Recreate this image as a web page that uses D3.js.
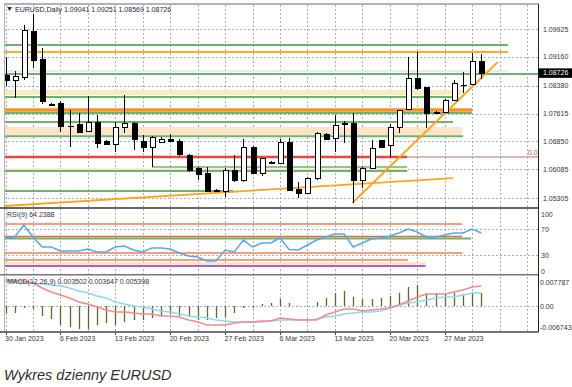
<!DOCTYPE html>
<html>
<head>
<meta charset="utf-8">
<script src="https://cdn.jsdelivr.net/npm/d3@7"></script>
<style>
body { margin: 0; background: #fff; }
text { font-family: "Liberation Sans", Arial, sans-serif; }
</style>
</head>
<body>
<div id="content"></div>
<script>
// daily bars, broker feed with sunday candles
var dates = ["2023-01-30","2023-01-31","2023-02-01","2023-02-02","2023-02-03","2023-02-05",
  "2023-02-06","2023-02-07","2023-02-08","2023-02-09","2023-02-10","2023-02-12",
  "2023-02-13","2023-02-14","2023-02-15","2023-02-16","2023-02-17","2023-02-19",
  "2023-02-20","2023-02-21","2023-02-22","2023-02-23","2023-02-24","2023-02-26",
  "2023-02-27","2023-02-28","2023-03-01","2023-03-02","2023-03-03","2023-03-05",
  "2023-03-06","2023-03-07","2023-03-08","2023-03-09","2023-03-10","2023-03-12",
  "2023-03-13","2023-03-14","2023-03-15","2023-03-16","2023-03-17","2023-03-19",
  "2023-03-20","2023-03-21","2023-03-22","2023-03-23","2023-03-24","2023-03-26",
  "2023-03-27","2023-03-28","2023-03-29","2023-03-30","2023-03-31"];

var open = [1.08667,1.08531,1.08613,1.09870,1.09105,1.07874,1.07902,1.07273,1.07328,1.07136,1.07382,1.06863,
  1.06781,1.07246,1.07355,1.06863,1.06699,1.06836,1.06918,1.06863,1.06480,1.06125,1.05988,1.05496,
  1.05496,1.06070,1.05797,1.06699,1.05988,1.06289,1.06261,1.06836,1.05551,1.05441,1.05851,1.07054,
  1.06945,1.07328,1.07355,1.05797,1.06125,1.06890,1.06754,1.07246,1.07738,1.08585,1.08339,1.07656,
  1.07656,1.07984,1.08394,1.08421,1.09041];
var high = [1.09160,1.08777,1.10034,1.10335,1.09406,1.07902,1.07957,1.07710,1.07628,1.08093,1.07574,1.06890,
  1.07382,1.08121,1.07382,1.07027,1.06990,1.06972,1.07054,1.06918,1.06508,1.06152,1.06152,1.05551,
  1.06125,1.06480,1.06918,1.06726,1.06410,1.06316,1.06918,1.06945,1.05742,1.05870,1.07100,1.07082,
  1.07574,1.07410,1.07628,1.06140,1.06890,1.06900,1.07328,1.07720,1.09160,1.09296,1.08350,1.07683,
  1.08011,1.08531,1.08749,1.09269,1.09251];
var low = [1.08367,1.08039,1.08531,1.08859,1.07874,1.07847,1.07109,1.06699,1.07082,1.07120,1.06671,1.06754,
  1.06562,1.07082,1.06617,1.06562,1.06152,1.06822,1.06836,1.06453,1.06015,1.05797,1.05469,1.05469,
  1.05332,1.05742,1.05742,1.05961,1.05906,1.06261,1.06234,1.05496,1.05305,1.05414,1.05797,1.06890,
  1.06562,1.06808,1.05168,1.05578,1.06110,1.06690,1.06425,1.07082,1.07710,1.08257,1.07218,1.07628,
  1.07640,1.07970,1.08175,1.08410,1.08569];
var close = [1.08531,1.08640,1.09898,1.09077,1.07957,1.07860,1.07273,1.07260,1.07109,1.07382,1.06808,1.06781,
  1.07246,1.07355,1.06918,1.06699,1.06972,1.06918,1.06863,1.06508,1.06070,1.05961,1.05496,1.05523,
  1.06070,1.05797,1.06699,1.05988,1.06398,1.06275,1.06836,1.05523,1.05441,1.05851,1.07082,1.06918,
  1.07300,1.07355,1.05797,1.06125,1.06671,1.06699,1.07246,1.07710,1.08585,1.08312,1.07628,1.07642,
  1.07984,1.08449,1.08400,1.09050,1.08726];

var rsi = [57.0,58.0,76.7,58.0,42.5,42.5,36.2,36.2,36.2,39.3,34.7,34.7,
  42.5,44.0,37.8,34.7,40.9,40.9,39.3,33.1,28.5,26.9,20.7,20.7,
  37.8,34.7,53.3,42.5,48.7,48.7,56.5,38.6,37.8,45.6,53.3,58.0,
  62.7,62.7,42.5,48.7,54.9,56.5,59.6,64.2,70.5,65.8,58.0,58.0,
  61.1,64.2,64.2,70.5,64.24];

var macdHist = [-0.00223,-0.00223,-0.00061,-0.00094,-0.00320,-0.00417,-0.00610,-0.00675,-0.00739,-0.00739,-0.00610,-0.00546,
  -0.00610,-0.00513,-0.00449,-0.00449,-0.00384,-0.00320,-0.00255,-0.00320,-0.00352,-0.00449,-0.00449,-0.00384,
  -0.00352,-0.00223,-0.00061,-0.00061,0.00068,0.00100,0.00229,0.00100,0.00019,0.00019,0.00132,0.00262,
  0.00423,0.00488,0.00294,0.00229,0.00229,0.00262,0.00326,0.00423,0.00617,0.00681,0.00423,0.00423,
  0.00423,0.00423,0.00391,0.00455,0.00423];
var macdRed = [0.00843,0.00843,0.00810,0.00746,0.00584,0.00455,0.00358,0.00262,0.00132,0.00068,-0.00029,-0.00126,
  -0.00191,-0.00191,-0.00223,-0.00255,-0.00255,-0.00320,-0.00320,-0.00352,-0.00449,-0.00513,-0.00610,-0.00610,
  -0.00610,-0.00546,-0.00513,-0.00513,-0.00481,-0.00481,-0.00384,-0.00417,-0.00449,-0.00449,-0.00449,-0.00287,
  -0.00191,-0.00094,-0.00094,-0.00158,-0.00126,-0.00094,-0.00061,0.00036,0.00165,0.00294,0.00391,0.00391,
  0.00391,0.00455,0.00520,0.00617,0.00649];
var macdBlue = [0.00810,0.00778,0.00746,0.00746,0.00714,0.00681,0.00649,0.00584,0.00488,0.00423,0.00326,0.00262,
  0.00132,0.00068,0.00003,-0.00029,-0.00094,-0.00158,-0.00191,-0.00255,-0.00320,-0.00352,-0.00384,-0.00449,
  -0.00481,-0.00513,-0.00513,-0.00513,-0.00513,-0.00481,-0.00449,-0.00449,-0.00449,-0.00449,-0.00417,-0.00352,
  -0.00320,-0.00255,-0.00223,-0.00191,-0.00191,-0.00158,-0.00061,0.00036,0.00100,0.00132,0.00197,0.00262,
  0.00294,0.00294,0.00358,0.00423,0.00423];

var priceTicks = [1.09925, 1.09160, 1.08380, 1.07615, 1.06850, 1.06085, 1.05305];
var rsiTicks = [100, 70, 30, 0];
var rsiGrid = [70, 30];
var macdTicks = [0.007787, 0.00, -0.006743];

var title = "EURUSD,Daily 1.09041 1.09251 1.08569 1.08726";
var rsiTitle = "RSI(9) 64.2388";
var macdTitle = "MACD(12,26,9) 0.003502 0.003647 0.005398";
var lastPrice = 1.08726;

// chart objects drawn on the terminal (price, from bar, to bar)
var green = "#6db36d", orange = "#ffa726", salmon = "#f99b7d";
var hLevels = [
  {p: 1.09487, a: -1, b: 54.9, c: green, w: 2},
  {p: 1.09296, a: -1, b: 54.9, c: orange, w: 2},
  {p: 1.08777, a: -1, b: 54.9, c: "#e6ecea", w: 2},
  {p: 1.08695, a: -1, b: 60, c: green, w: 2},
  {p: 1.08066, a: -1, b: 49.5, c: green, w: 2},
  {p: 1.07710, a: -1, b: 51, c: "#f7931e", w: 3.5},
  {p: 1.07628, a: -1, b: 51, c: green, w: 2},
  {p: 1.07382, a: -1, b: 48.9, c: green, w: 2},
  {p: 1.06990, a: -1, b: 50, c: green, w: 2},
  {p: 1.06425, a: 43.9, b: 60, c: "#c9a593", w: 1.5},
  {p: 1.06425, a: -1, b: 43.9, c: "#e8453f", w: 2.5},
  {p: 1.06152, a: 16, b: 43.9, c: green, w: 1.5},
  {p: 1.06042, a: -1, b: 43.9, c: green, w: 2},
  {p: 1.05496, a: -1, b: 24.9, c: green, w: 2}
];
var bands = [
  {p1: 1.08257, p2: 1.08121, a: -1, b: 49.9, c: "#f6edbd"},
  {p1: 1.07246, p2: 1.07010, a: -1, b: 49.9, c: "#fde4c8"},
  {p1: 1.06110, p2: 1.06070, a: -1, b: 43.9, c: "#fbdcc4"}
];
var trends = [
  {a: -0.2, p1: 1.05086, b: 48.9, p2: 1.05851},
  {a: 37.9, p1: 1.05168, b: 53.8, p2: 1.09023}
];
var rsiLevels = [
  {v: 78.2, b: 49.9, c: salmon, w: 2},
  {v: 55.8, b: 50.9, c: green, w: 2},
  {v: 58.6, b: 49.9, c: "#d9703f", w: 1.5},
  {v: 33.1, b: 49.9, c: salmon, w: 2},
  {v: 22.2, b: 44, c: salmon, w: 2},
  {v: 16.8, b: 45.9, c: "#f1e9a6", w: 2.5},
  {v: 12.9, b: 45.9, c: "#b35ad6", w: 2}
];

var W = 572, H = 387;
var L = 4, R = 538.5;
var mainTop = 5, mainBot = 207.5;
var rsiTop = 209, rsiBot = 274;
var macdTop = 275.5, macdBot = 331.5;

var svg = d3.select("#content").append("svg")
  .attr("width", W).attr("height", H)
  .style("display", "block");

var x = d3.scaleLinear().domain([0, dates.length - 1])
  .range([5.5, 5.5 + 9.15 * (dates.length - 1)]);
var y = d3.scaleLinear().domain([1.05305, 1.09925]).range([198, 29]);
var yR = d3.scaleLinear().domain([0, 100]).range([274.3, 210]);
var yM = d3.scaleLinear().domain([-0.006743, 0.007787]).range([327, 282]);

var parse = d3.timeParse("%Y-%m-%d");
var fmt = d3.timeFormat("%-d %b %Y");

var defs = svg.append("defs");
[["clipMain", mainTop, mainBot], ["clipRsi", rsiTop, rsiBot], ["clipMacd", macdTop, macdBot]].forEach(function(c) {
  defs.append("clipPath").attr("id", c[0]).append("rect")
    .attr("x", L).attr("y", c[1]).attr("width", R - L).attr("height", c[2] - c[1]);
});

var gridCol = "#a3acba";

// vertical grid every 3 bars
var vIdx = d3.range(0, 60, 3).filter(function(i) { return x(i) < R - 2; });
svg.append("g").selectAll("line").data(vIdx).enter().append("line")
  .attr("x1", function(d) { return Math.round(x(d)) + 0.5; })
  .attr("x2", function(d) { return Math.round(x(d)) + 0.5; })
  .attr("y1", mainTop).attr("y2", macdBot)
  .attr("stroke", gridCol).attr("stroke-width", 1)
  .attr("stroke-dasharray", "2,2").attr("shape-rendering", "crispEdges");

// horizontal grids
function hgrid(vals, sc) {
  svg.append("g").selectAll("line").data(vals).enter().append("line")
    .attr("x1", L).attr("x2", R)
    .attr("y1", function(d) { return Math.round(sc(d)) + 0.5; })
    .attr("y2", function(d) { return Math.round(sc(d)) + 0.5; })
    .attr("stroke", gridCol).attr("stroke-width", 1)
    .attr("stroke-dasharray", "2,2").attr("shape-rendering", "crispEdges");
}
hgrid(priceTicks, y);
hgrid(rsiGrid, yR);
hgrid([0], yM);

// ---- main panel objects
var gm = svg.append("g").attr("clip-path", "url(#clipMain)");

gm.selectAll("rect.band").data(bands).enter().append("rect")
  .attr("x", function(d) { return Math.max(L, x(d.a)); })
  .attr("width", function(d) { return x(d.b) - Math.max(L, x(d.a)); })
  .attr("y", function(d) { return y(d.p1); })
  .attr("height", function(d) { return y(d.p2) - y(d.p1); })
  .attr("fill", function(d) { return d.c; });

gm.selectAll("line.lvl").data(hLevels).enter().append("line")
  .attr("x1", function(d) { return Math.max(L, x(d.a)); })
  .attr("x2", function(d) { return Math.min(R, x(d.b)); })
  .attr("y1", function(d) { return y(d.p); })
  .attr("y2", function(d) { return y(d.p); })
  .attr("stroke", function(d) { return d.c; })
  .attr("stroke-width", function(d) { return d.w; });

gm.selectAll("line.tr").data(trends).enter().append("line")
  .attr("x1", function(d) { return x(d.a); })
  .attr("x2", function(d) { return x(d.b); })
  .attr("y1", function(d) { return y(d.p1); })
  .attr("y2", function(d) { return y(d.p2); })
  .attr("stroke", "#ffa31a").attr("stroke-width", 1.8);

// candles
var bars = dates.map(function(d, i) {
  return {i: i, o: open[i], h: high[i], l: low[i], c: close[i]};
});
var cg = gm.append("g");
cg.selectAll("line").data(bars).enter().append("line")
  .attr("x1", function(d) { return Math.round(x(d.i)) + 0.5; })
  .attr("x2", function(d) { return Math.round(x(d.i)) + 0.5; })
  .attr("y1", function(d) { return y(d.h); })
  .attr("y2", function(d) { return y(d.l); })
  .attr("stroke", "#000").attr("stroke-width", 1)
  .attr("shape-rendering", "crispEdges");
cg.selectAll("rect").data(bars).enter().append("rect")
  .attr("x", function(d) { return Math.round(x(d.i)) - 2; })
  .attr("width", 5)
  .attr("y", function(d) { return Math.round(y(Math.max(d.o, d.c))) + 0.5; })
  .attr("height", function(d) { return Math.max(0.01, Math.round(Math.abs(y(d.o) - y(d.c)))); })
  .attr("fill", function(d) { return d.c > d.o ? "#fff" : "#000"; })
  .attr("stroke", "#000").attr("stroke-width", 1)
  .attr("shape-rendering", "crispEdges");

gm.append("text").attr("x", 528).attr("y", y(1.06425) - 2)
  .attr("font-size", 7).attr("fill", "#b25a50").text("0.0");

// ---- RSI panel
var gr = svg.append("g").attr("clip-path", "url(#clipRsi)");
gr.selectAll("line").data(rsiLevels).enter().append("line")
  .attr("x1", L).attr("x2", function(d) { return x(d.b); })
  .attr("y1", function(d) { return yR(d.v); })
  .attr("y2", function(d) { return yR(d.v); })
  .attr("stroke", function(d) { return d.c; })
  .attr("stroke-width", function(d) { return d.w; });
gr.append("path").datum(rsi)
  .attr("d", d3.line().x(function(d, i) { return x(i); }).y(function(d) { return yR(d); }))
  .attr("fill", "none").attr("stroke", "#55a8ee").attr("stroke-width", 1.5);

// ---- MACD panel
var gd = svg.append("g").attr("clip-path", "url(#clipMacd)");
gd.selectAll("line").data(macdHist).enter().append("line")
  .attr("x1", function(d, i) { return Math.round(x(i)) + 0.5; })
  .attr("x2", function(d, i) { return Math.round(x(i)) + 0.5; })
  .attr("y1", yM(0)).attr("y2", function(d) { return yM(d); })
  .attr("stroke", "#5a6b2c").attr("stroke-width", 1.3);
var mline = d3.line().x(function(d, i) { return x(i); }).y(function(d) { return yM(d); });
gd.append("path").datum(macdBlue).attr("d", mline)
  .attr("fill", "none").attr("stroke", "#8fd8f2").attr("stroke-width", 1.5);
gd.append("path").datum(macdRed).attr("d", mline)
  .attr("fill", "none").attr("stroke", "#f58a8a").attr("stroke-width", 1.5);

// ---- frame
svg.append("line").attr("x1", L).attr("x2", R).attr("y1", 4).attr("y2", 4)
  .attr("stroke", "#9a9a9a").attr("stroke-width", 1.5);
svg.append("line").attr("x1", 4.5).attr("x2", 4.5).attr("y1", 4).attr("y2", 332)
  .attr("stroke", "#b4b4b4").attr("stroke-width", 1);
svg.append("line").attr("x1", 0).attr("x2", R).attr("y1", 208).attr("y2", 208)
  .attr("stroke", "#333").attr("stroke-width", 1.6);
svg.append("line").attr("x1", 0).attr("x2", R).attr("y1", 274.7).attr("y2", 274.7)
  .attr("stroke", "#777").attr("stroke-width", 1.6);
svg.append("line").attr("x1", 0).attr("x2", R).attr("y1", 332).attr("y2", 332)
  .attr("stroke", "#444").attr("stroke-width", 1.3);
svg.append("line").attr("x1", R).attr("x2", R).attr("y1", 4).attr("y2", 332)
  .attr("stroke", "#222").attr("stroke-width", 1);

// right axes
var axisText = "#333";
function rightLabels(vals, sc, fmtf, lx, clampLo, clampHi) {
  svg.append("g").selectAll("text").data(vals).enter().append("text")
    .attr("x", lx)
    .attr("y", function(d) { return Math.min(clampHi, Math.max(clampLo, sc(d))) + 2.5; })
    .attr("font-size", 7).attr("fill", axisText)
    .text(fmtf);
}
rightLabels(priceTicks, y, function(d) { return d.toFixed(5); }, 543, 0, 999);
rightLabels(rsiTicks, yR, function(d) { return d; }, 541, 214, 271);
rightLabels(macdTicks, yM, function(d) { return d === 0 ? "0.00" : d.toFixed(6); }, 540, 0, 999);

svg.append("rect").attr("x", R).attr("y", y(lastPrice) - 4.5)
  .attr("width", W - R).attr("height", 9.5).attr("fill", "#000");
svg.append("text").attr("x", 543).attr("y", y(lastPrice) + 2.5)
  .attr("font-size", 7).attr("fill", "#fff").text(lastPrice.toFixed(5));

// date axis: label every monday
var mondays = dates.map(function(d, i) { return {i: i, t: parse(d)}; })
  .filter(function(d) { return d.t.getDay() === 1; });
var gx = svg.append("g");
gx.selectAll("line").data(mondays).enter().append("line")
  .attr("x1", function(d) { return Math.round(x(d.i)) + 0.5; })
  .attr("x2", function(d) { return Math.round(x(d.i)) + 0.5; })
  .attr("y1", 332).attr("y2", 335).attr("stroke", "#444");
gx.selectAll("text").data(mondays).enter().append("text")
  .attr("x", function(d) { return x(d.i) - 0.5; })
  .attr("y", 341)
  .attr("font-size", 7).attr("fill", axisText)
  .text(function(d) { return fmt(d.t); });

// titles
svg.append("path").attr("d", "M7,7 L12,7 L9.5,11 Z").attr("fill", "#333");
svg.append("text").attr("x", 15).attr("y", 11.5).attr("font-size", 7)
  .attr("fill", "#1f2240").text(title);
svg.append("text").attr("x", 7).attr("y", 216.5).attr("font-size", 7)
  .attr("fill", "#333").text(rsiTitle);
svg.append("text").attr("x", 7).attr("y", 284).attr("font-size", 7)
  .attr("fill", "#333").text(macdTitle);

svg.append("text").attr("x", 4).attr("y", 380)
  .attr("font-family", "'Open Sans', Lato, sans-serif")
  .attr("font-style", "italic").attr("font-size", 14.5)
  .attr("fill", "#2e2e2e").text("Wykres dzienny EURUSD");
</script>
</body>
</html>
